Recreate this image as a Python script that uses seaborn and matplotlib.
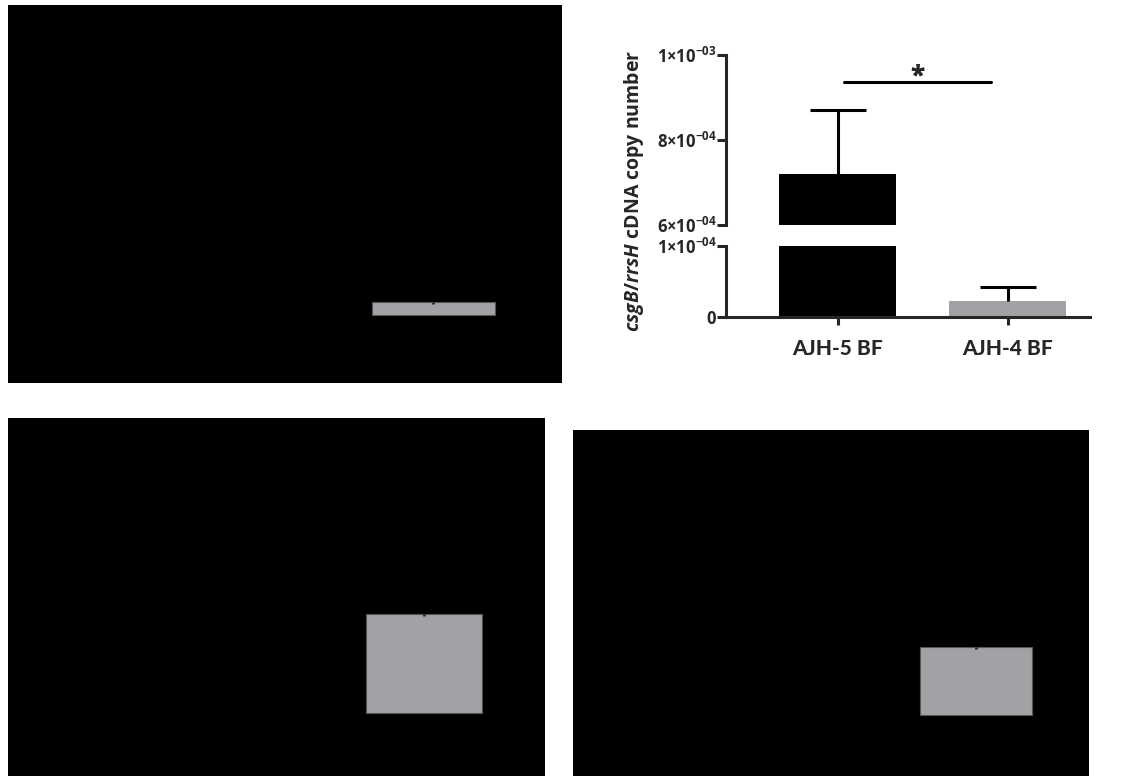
import numpy as np
import pandas as pd
import seaborn as sns
import matplotlib.pyplot as plt

# top right chart: csgB/rrsH copy number, mean + SEM
strains = ["AJH-5 BF", "AJH-4 BF"]
copy_mean = [7.2e-4, 2.25e-5]
copy_sem = [1.5e-4, 1.95e-5]
bar_colors = ["black", "#a2a1a6"]

# the other three panels came out solid black, only the grey bar is left
panel_names = ["top_left", "bottom_left", "bottom_right"]
grey_height = [13, 99, 68]
grey_tick = [2, 2, 2]
grey = "#a2a1a6"

sns.set_style("ticks")
plt.rcParams["font.family"] = ["Open Sans", "DejaVu Sans"]
plt.rcParams["mathtext.fontset"] = "custom"
plt.rcParams["mathtext.rm"] = "Open Sans:bold"
plt.rcParams["mathtext.bf"] = "Open Sans:bold"
plt.rcParams["mathtext.it"] = "Open Sans:italic:bold"

W, H = 1125, 778
fig = plt.figure(figsize=(W / 100, H / 100), dpi=100)


def px_rect(x0, y0, x1, y1):
    return [x0 / W, 1 - y1 / H, (x1 - x0) / W, (y1 - y0) / H]


# black panels
panel_rects = [px_rect(8, 5, 562, 383), px_rect(8, 418, 545, 776), px_rect(573, 430, 1089, 776)]
panel_xlims = [(-2.767, 0.836), (-2.869, 0.834), (-2.879, 0.807)]
panel_ylims = [(-68, 310), (-63, 295), (-61, 285)]

for name, h, t, rect, xl, yl in zip(panel_names, grey_height, grey_tick,
                                    panel_rects, panel_xlims, panel_ylims):
    ax = fig.add_axes(rect)
    ax.set_facecolor("black")
    sns.barplot(x=[name], y=[h], color=grey, saturation=1, width=0.8, errorbar=None,
                edgecolor="#555555", linewidth=0.8, ax=ax)
    ax.errorbar(0, h, yerr=[[t], [0]], fmt="none", ecolor="#262626", elinewidth=2)
    ax.set_xlim(xl)
    ax.set_ylim(yl)
    ax.set_xticks([])
    ax.set_yticks([])
    ax.set_xlabel("")
    ax.set_ylabel("")
    for s in ax.spines.values():
        s.set_visible(False)

# broken axis bar chart
df = pd.DataFrame({"strain": strains, "copies": copy_mean})
ax_top = fig.add_axes(px_rect(726, 55, 1090, 225))
ax_bot = fig.add_axes(px_rect(726, 246, 1090, 317))
for ax in (ax_top, ax_bot):
    sns.barplot(data=df, x="strain", y="copies", hue="strain", palette=bar_colors,
                saturation=1, width=0.69, errorbar=None, legend=False, linewidth=0, ax=ax)
    ax.set_xlim(-0.656, 1.485)
    ax.set_xlabel("")
    ax.set_ylabel("")
    ax.spines["top"].set_visible(False)
    ax.spines["right"].set_visible(False)
    for s in ax.spines.values():
        s.set_linewidth(2.2)
    ax.tick_params(axis="y", length=6.5, width=2.2, pad=0, labelsize=12)

ax_top.set_ylim(6e-4, 1e-3)
ax_bot.set_ylim(0, 1e-4)
ax_top.spines["bottom"].set_visible(False)
ax_top.set_xticks([])

ax_top.set_yticks([6e-4, 8e-4, 1e-3])
ax_top.set_yticklabels([r"$\mathbf{6{\times}10^{-04}}$", r"$\mathbf{8{\times}10^{-04}}$",
                        r"$\mathbf{1{\times}10^{-03}}$"])
ax_bot.set_yticks([0, 1e-4])
ax_bot.set_yticklabels([r"$\mathbf{0}$", r"$\mathbf{1{\times}10^{-04}}$"])
ax_bot.set_xticks([0, 1])
ax_bot.set_xticklabels(strains, fontsize=15, fontweight="black", family=["Lato", "DejaVu Sans"])
ax_bot.tick_params(axis="x", length=6, width=2.2, pad=10)

# SEM whiskers, upper side only
for ax, i in ((ax_top, 0), (ax_bot, 1)):
    eb = ax.errorbar(i, copy_mean[i], yerr=[[0], [copy_sem[i]]], fmt="none", ecolor="black",
                     elinewidth=2.2, capsize=20, capthick=2.2)
    eb[1][0].set_visible(False)

# significance bar
ax_top.plot([0.04, 0.90], [9.36e-4, 9.36e-4], color="black", lw=2.2, clip_on=False)
ax_top.text(0.47, 9.18e-4, "*", ha="center", va="bottom", fontsize=19, fontweight="black")

fig.text(634 / W, 1 - 191 / H, r"$\mathit{csgB/rrsH}$ cDNA copy number", rotation=90,
         ha="center", va="center", fontsize=14, fontweight="bold")

fig.savefig("out.png", dpi=100, facecolor="white")
